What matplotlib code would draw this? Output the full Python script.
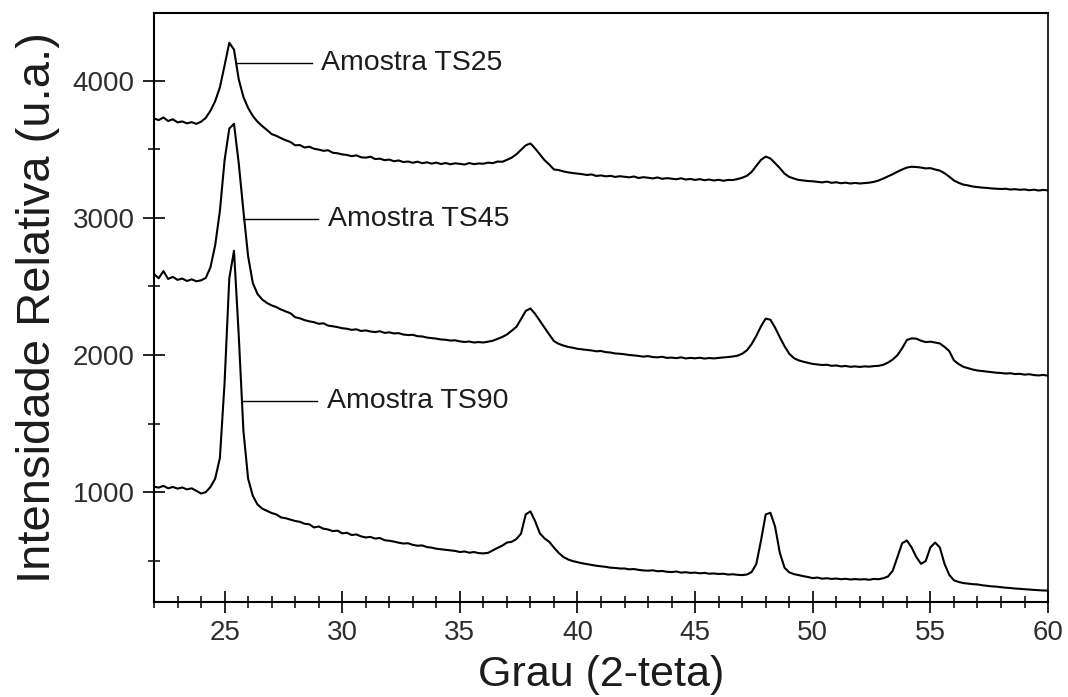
import numpy as np
import matplotlib
matplotlib.use("Agg")
import matplotlib.pyplot as plt
from matplotlib.ticker import MultipleLocator

# 2-theta grid: 22.0 .. 60.0 step 0.2
two_theta = np.round(np.arange(22.0, 60.0001, 0.2), 1)

ts25 = [
    3723, 3712, 3731, 3705, 3718, 3695, 3702, 3688, 3697, 3684,
    3700, 3728, 3780, 3850, 3950, 4110, 4275, 4225, 4010, 3880,
    3800, 3742, 3700, 3668, 3640, 3610, 3597, 3580, 3565, 3552,
    3528, 3530, 3512, 3518, 3503, 3497, 3488, 3492, 3474, 3470,
    3462, 3458, 3449, 3455, 3441, 3438, 3445, 3428, 3431, 3420,
    3424, 3412, 3418, 3406, 3410, 3401, 3409, 3398, 3404, 3395,
    3402, 3392, 3399, 3390, 3397, 3393, 3388, 3399, 3391, 3396,
    3394, 3402, 3398, 3410, 3408, 3422, 3438, 3462, 3495, 3528,
    3542, 3505, 3462, 3420, 3388, 3352, 3348, 3338, 3331, 3326,
    3322, 3318, 3312, 3316, 3305, 3309, 3302, 3306, 3298, 3303,
    3299, 3295, 3301, 3290, 3296, 3292, 3287, 3294, 3284, 3289,
    3285, 3281, 3288, 3279, 3283, 3276, 3282, 3274, 3279, 3272,
    3277, 3270, 3276, 3275, 3282, 3292, 3306, 3334, 3378, 3422,
    3446, 3432, 3398, 3362, 3322, 3298, 3286, 3276, 3272, 3268,
    3266, 3262, 3258, 3264, 3255, 3259, 3252, 3256, 3250, 3254,
    3250, 3253, 3256, 3262, 3272, 3286, 3302, 3318, 3336, 3352,
    3366, 3372, 3370, 3366, 3360, 3362, 3352, 3344, 3325, 3300,
    3272, 3255, 3242, 3236, 3228, 3224, 3220, 3218, 3214, 3212,
    3210, 3212, 3206, 3209, 3204, 3207, 3201, 3205, 3199, 3203,
    3200,
]

ts45 = [
    2590, 2560, 2612, 2555, 2570, 2548, 2558, 2540, 2552, 2538,
    2545, 2562, 2640, 2800, 3050, 3420, 3650, 3685, 3400, 3050,
    2720, 2525, 2445, 2405, 2380, 2362, 2350, 2332, 2318, 2305,
    2276, 2268, 2255, 2246, 2240, 2228, 2232, 2215, 2210, 2204,
    2196, 2192, 2184, 2188, 2176, 2180, 2172, 2168, 2174, 2162,
    2166, 2158, 2160, 2150, 2146, 2148, 2138, 2136, 2128, 2124,
    2120, 2114, 2112, 2106, 2108, 2100, 2096, 2099, 2092, 2095,
    2092, 2098, 2105, 2118, 2132, 2150, 2178, 2205, 2262, 2322,
    2340, 2300, 2250, 2200, 2150, 2102, 2082, 2070, 2060, 2054,
    2046, 2042, 2038, 2034, 2028, 2030, 2022, 2019, 2012, 2010,
    2006, 2001, 1998, 1994, 1989, 1993, 1986, 1984, 1988, 1980,
    1982, 1978, 1984, 1976, 1980, 1977, 1981, 1975, 1979, 1976,
    1980, 1983, 1986, 1990, 1996, 2010, 2035, 2080, 2140, 2210,
    2266, 2258, 2200, 2130, 2065, 2010, 1978, 1962, 1952, 1944,
    1936, 1932, 1928, 1930, 1922, 1925, 1918, 1921, 1915, 1918,
    1914, 1918, 1916, 1920, 1922, 1930, 1946, 1968, 2000, 2050,
    2110, 2122, 2120, 2105, 2095, 2098, 2092, 2085, 2060, 2030,
    1962, 1935, 1915, 1905, 1895, 1888, 1884, 1880, 1876, 1872,
    1870, 1866, 1868, 1862, 1864, 1858, 1861, 1855, 1852, 1856,
    1850,
]

ts90 = [
    1042, 1035, 1048, 1030, 1040, 1028, 1036, 1022, 1030, 1012,
    992, 1002, 1040, 1100, 1250, 1800, 2560, 2760, 2150, 1450,
    1100, 975, 912, 882, 866, 850, 840, 818, 812, 802,
    792, 786, 772, 768, 745, 752, 736, 730, 718, 722,
    702, 706, 690, 694, 680, 672, 676, 664, 668, 652,
    648, 642, 634, 628, 630, 618, 612, 614, 602, 598,
    590, 586, 582, 578, 574, 566, 570, 561, 566, 558,
    556, 560, 578, 596, 612, 635, 640, 660, 700, 840,
    862, 790, 702, 665, 640, 598, 560, 530, 512, 500,
    492, 484, 478, 472, 466, 462, 458, 452, 450, 446,
    446, 440, 442, 436, 432, 430, 433, 426, 428, 422,
    420, 424, 416, 419, 414, 416, 411, 414, 408, 410,
    406, 408, 402, 404, 400, 398, 402, 420, 478, 650,
    840, 852, 750, 560, 452, 418, 405, 398, 390, 384,
    376, 380, 372, 375, 370, 373, 368, 371, 366, 369,
    366, 368, 364, 370, 368, 375, 388, 430, 530, 630,
    650, 600, 530, 480, 500, 600, 635, 600, 480, 400,
    360, 348, 340, 336, 332, 330, 324, 320, 316, 314,
    310, 306, 304, 300, 298, 295, 293, 290, 288, 286,
    285,
]

sample_names = ["Amostra TS25", "Amostra TS45", "Amostra TS90"]

plt.rcParams['font.family'] = ['Liberation Sans', 'DejaVu Sans']
TXT = '#1c1c1c'
TICK_TXT = '#2e2e2e'

fig = plt.figure(figsize=(10.68, 6.97), dpi=100)
ax = fig.add_axes([0.1442, 0.1359, 0.8371, 0.8451])

for s in (ts25, ts45, ts90):
    ax.plot(two_theta, s, color='black', lw=1.5)

# label leader lines: (x_point, x_end_of_line, y, x_text)
leaders = [(25.51, 28.70, 4129, 29.09),
           (25.80, 28.99, 2993, 29.40),
           (25.73, 28.92, 1664, 29.34)]
for name, (x0, x1, yy, xt) in zip(sample_names, leaders):
    ax.plot([x0, x1], [yy, yy], color='black', lw=1.0)
    ax.text(xt, yy, name, fontsize=20.5, color=TXT, va='center', ha='left')

ax.set_xlim(22, 60)
ax.set_ylim(200, 4490)
ax.xaxis.set_major_locator(MultipleLocator(5))
ax.xaxis.set_minor_locator(MultipleLocator(1))
ax.yaxis.set_major_locator(MultipleLocator(1000))
ax.yaxis.set_minor_locator(MultipleLocator(500))

ax.tick_params(which='major', direction='inout', length=16, width=1.2,
               labelsize=20, labelcolor=TICK_TXT, top=False, right=False)
ax.tick_params(which='minor', direction='inout', length=8, width=1.1,
               top=False, right=False)
ax.tick_params(axis='y', which='major', pad=6)
ax.tick_params(axis='x', which='major', pad=4.5)

for side in ['left', 'bottom', 'top']:
    ax.spines[side].set_linewidth(1.5)
ax.spines['right'].set_linewidth(1.2)

ax.set_xlabel("Grau (2-teta)", fontsize=31, color=TXT, labelpad=7)
ax.set_ylabel("Intensidade Relativa (u.a.)", fontsize=34, color=TXT, labelpad=9)

fig.savefig("out.png", dpi=100)
